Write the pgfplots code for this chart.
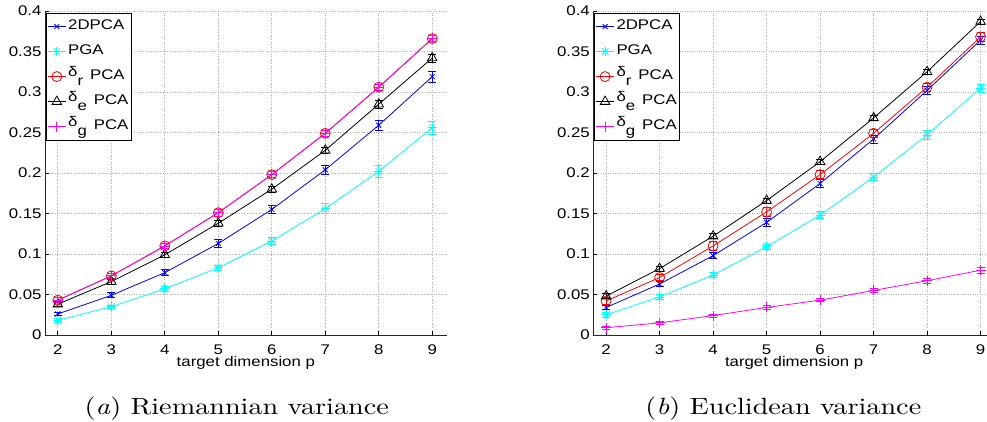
\documentclass[border=0pt]{standalone}
\usepackage{fontspec}
\setmainfont{Liberation Sans}[FakeStretch=1.2]
\newfontfamily\capfont{lmroman10-regular}[Extension=.otf, ItalicFont=lmroman10-italic, FakeStretch=1.2]
\usepackage{pgfplots}
\pgfplotsset{compat=1.18}
\usepackage{pgfplotstable}

\definecolor{mblue}{rgb}{0,0,1}
\definecolor{mcyan}{rgb}{0,1,1}
\definecolor{mred}{rgb}{1,0,0}
\definecolor{mmag}{rgb}{1,0,1}

\pgfdeclareplotmark{mstar}{\pgfuseplotmark{+}\pgfuseplotmark{x}}
\newcommand\tf{\fontsize{14}{16}\selectfont}
\newcommand\dr[1]{\raisebox{2.5pt}{δ}\raisebox{-6pt}{#1}\hspace{7pt}PCA}

% Riemannian variance, mean and error per method
\pgfplotstableread{
x  b     be    c     ce    r     re    k     ke    m     me
2  0.026 0.002 0.018 0.002 0.043 0.003 0.038 0.003 0.043 0.003
3  0.049 0.003 0.035 0.002 0.073 0.003 0.066 0.003 0.073 0.003
4  0.077 0.004 0.057 0.003 0.110 0.003 0.099 0.003 0.110 0.003
5  0.113 0.005 0.083 0.003 0.151 0.004 0.138 0.004 0.151 0.004
6  0.155 0.005 0.116 0.004 0.198 0.004 0.180 0.004 0.198 0.004
7  0.204 0.006 0.156 0.006 0.249 0.004 0.228 0.004 0.249 0.004
8  0.259 0.006 0.202 0.007 0.306 0.004 0.285 0.005 0.306 0.004
9  0.319 0.007 0.256 0.008 0.366 0.004 0.342 0.005 0.366 0.004
}\riem

% Euclidean variance
\pgfplotstableread{
x  b     be    c     ce    r     re    k     ke    m     me
2  0.034 0.003 0.025 0.003 0.042 0.004 0.048 0.003 0.009 0.002
3  0.063 0.003 0.047 0.003 0.071 0.004 0.082 0.003 0.015 0.002
4  0.098 0.004 0.074 0.003 0.110 0.005 0.122 0.003 0.024 0.002
5  0.139 0.005 0.109 0.003 0.152 0.005 0.166 0.003 0.034 0.002
6  0.187 0.005 0.148 0.004 0.198 0.005 0.214 0.003 0.043 0.002
7  0.242 0.005 0.195 0.004 0.249 0.005 0.268 0.003 0.055 0.003
8  0.302 0.005 0.247 0.005 0.306 0.005 0.325 0.003 0.067 0.003
9  0.364 0.005 0.305 0.005 0.368 0.005 0.387 0.003 0.080 0.004
}\eucl

\pgfplotsset{
  varplot/.style={
    scale only axis, width=401.7pt, height=324pt, anchor=south west,
    xmin=1.76, xmax=9.27, ymin=0, ymax=0.4,
    xtick={2,3,4,5,6,7,8,9}, xticklabels={2,3,4,5,6,7,8,9},
    ytick={0,0.05,0.1,0.15,0.2,0.25,0.3,0.35,0.4},
    yticklabels={0,0.05,0.1,0.15,0.2,0.25,0.3,0.35,0.4},
    axis x line*=bottom, axis y line*=left,
    axis line style={-, line width=0.8pt, black!85},
    tick align=inside, major tick length=4pt,
    tick style={black, line width=0.8pt},
    grid=major, grid style={dotted, black!30, line width=0.7pt},
    tick label style={font=\tf},
    xticklabel style={anchor=base, yshift=-19pt},
    yticklabel style={anchor=east, inner sep=0pt, xshift=-3.3pt},
    xlabel={target dimension p},
    xlabel style={font=\tf, at={(axis description cs:0.5,0)}, anchor=base, yshift=-31.7pt},
    legend style={at={(axis description cs:0,1)}, anchor=north west,
      xshift=1pt, yshift=-1.7pt, font=\tf, draw=black, line width=0.8pt,
      inner xsep=1pt, inner ysep=1pt, row sep=0pt, cells={anchor=west},
      nodes={text height=11pt, text depth=6pt, inner ysep=4pt}},
    legend image code/.code={\draw[mark repeat=2,mark phase=2,##1] plot coordinates {(0pt,0pt) (9pt,0pt) (18pt,0pt)};},
    legend entries={2DPCA, PGA, \dr{r}, \dr{e}, \dr{g}},
  },
  ser/.style={line width=0.8pt, mark options={solid, line width=0.8pt}},
  eb/.style={error bars/y dir=both, error bars/y explicit,
    error bars/error mark=-,
    error bars/error bar style={line width=0.8pt},
    error bars/error mark options={rotate=90, line width=0.8pt, mark size=4pt}},
}

\begin{document}
\begin{tikzpicture}
\path[use as bounding box] (0,0) rectangle (987pt,421pt);

\begin{axis}[varplot, at={(45pt,86pt)}]
\addplot[mblue, ser, mark=x, mark size=3.5pt, eb] table[x=x, y=b, y error=be] {\riem};
\addplot[mcyan, ser, mark=mstar, mark size=4.5pt, eb] table[x=x, y=c, y error=ce] {\riem};
\addplot[mred, ser, mark=o, mark size=5pt, eb] table[x=x, y=r, y error=re] {\riem};
\addplot[black, ser, mark=triangle, mark size=5.5pt, eb] table[x=x, y=k, y error=ke] {\riem};
\addplot[mmag, ser, mark=+, mark size=5pt, eb] table[x=x, y=m, y error=me] {\riem};
\end{axis}

\begin{axis}[varplot, at={(593.3pt,86pt)}]
\addplot[mblue, ser, mark=x, mark size=3.5pt, eb] table[x=x, y=b, y error=be] {\eucl};
\addplot[mcyan, ser, mark=mstar, mark size=4.5pt, eb] table[x=x, y=c, y error=ce] {\eucl};
\addplot[mred, ser, mark=o, mark size=5pt, eb] table[x=x, y=r, y error=re] {\eucl};
\addplot[black, ser, mark=triangle, mark size=5.5pt, eb] table[x=x, y=k, y error=ke] {\eucl};
\addplot[mmag, ser, mark=+, mark size=5pt, eb] table[x=x, y=m, y error=me] {\eucl};
\end{axis}

\node[font=\capfont\fontsize{23.5}{26}\selectfont, anchor=base] at (236.7pt,6.7pt) {(\textit{a}) Riemannian variance};
\node[font=\capfont\fontsize{23.5}{26}\selectfont, anchor=base] at (783.3pt,6.7pt) {(\textit{b}) Euclidean variance};
\end{tikzpicture}
\end{document}
